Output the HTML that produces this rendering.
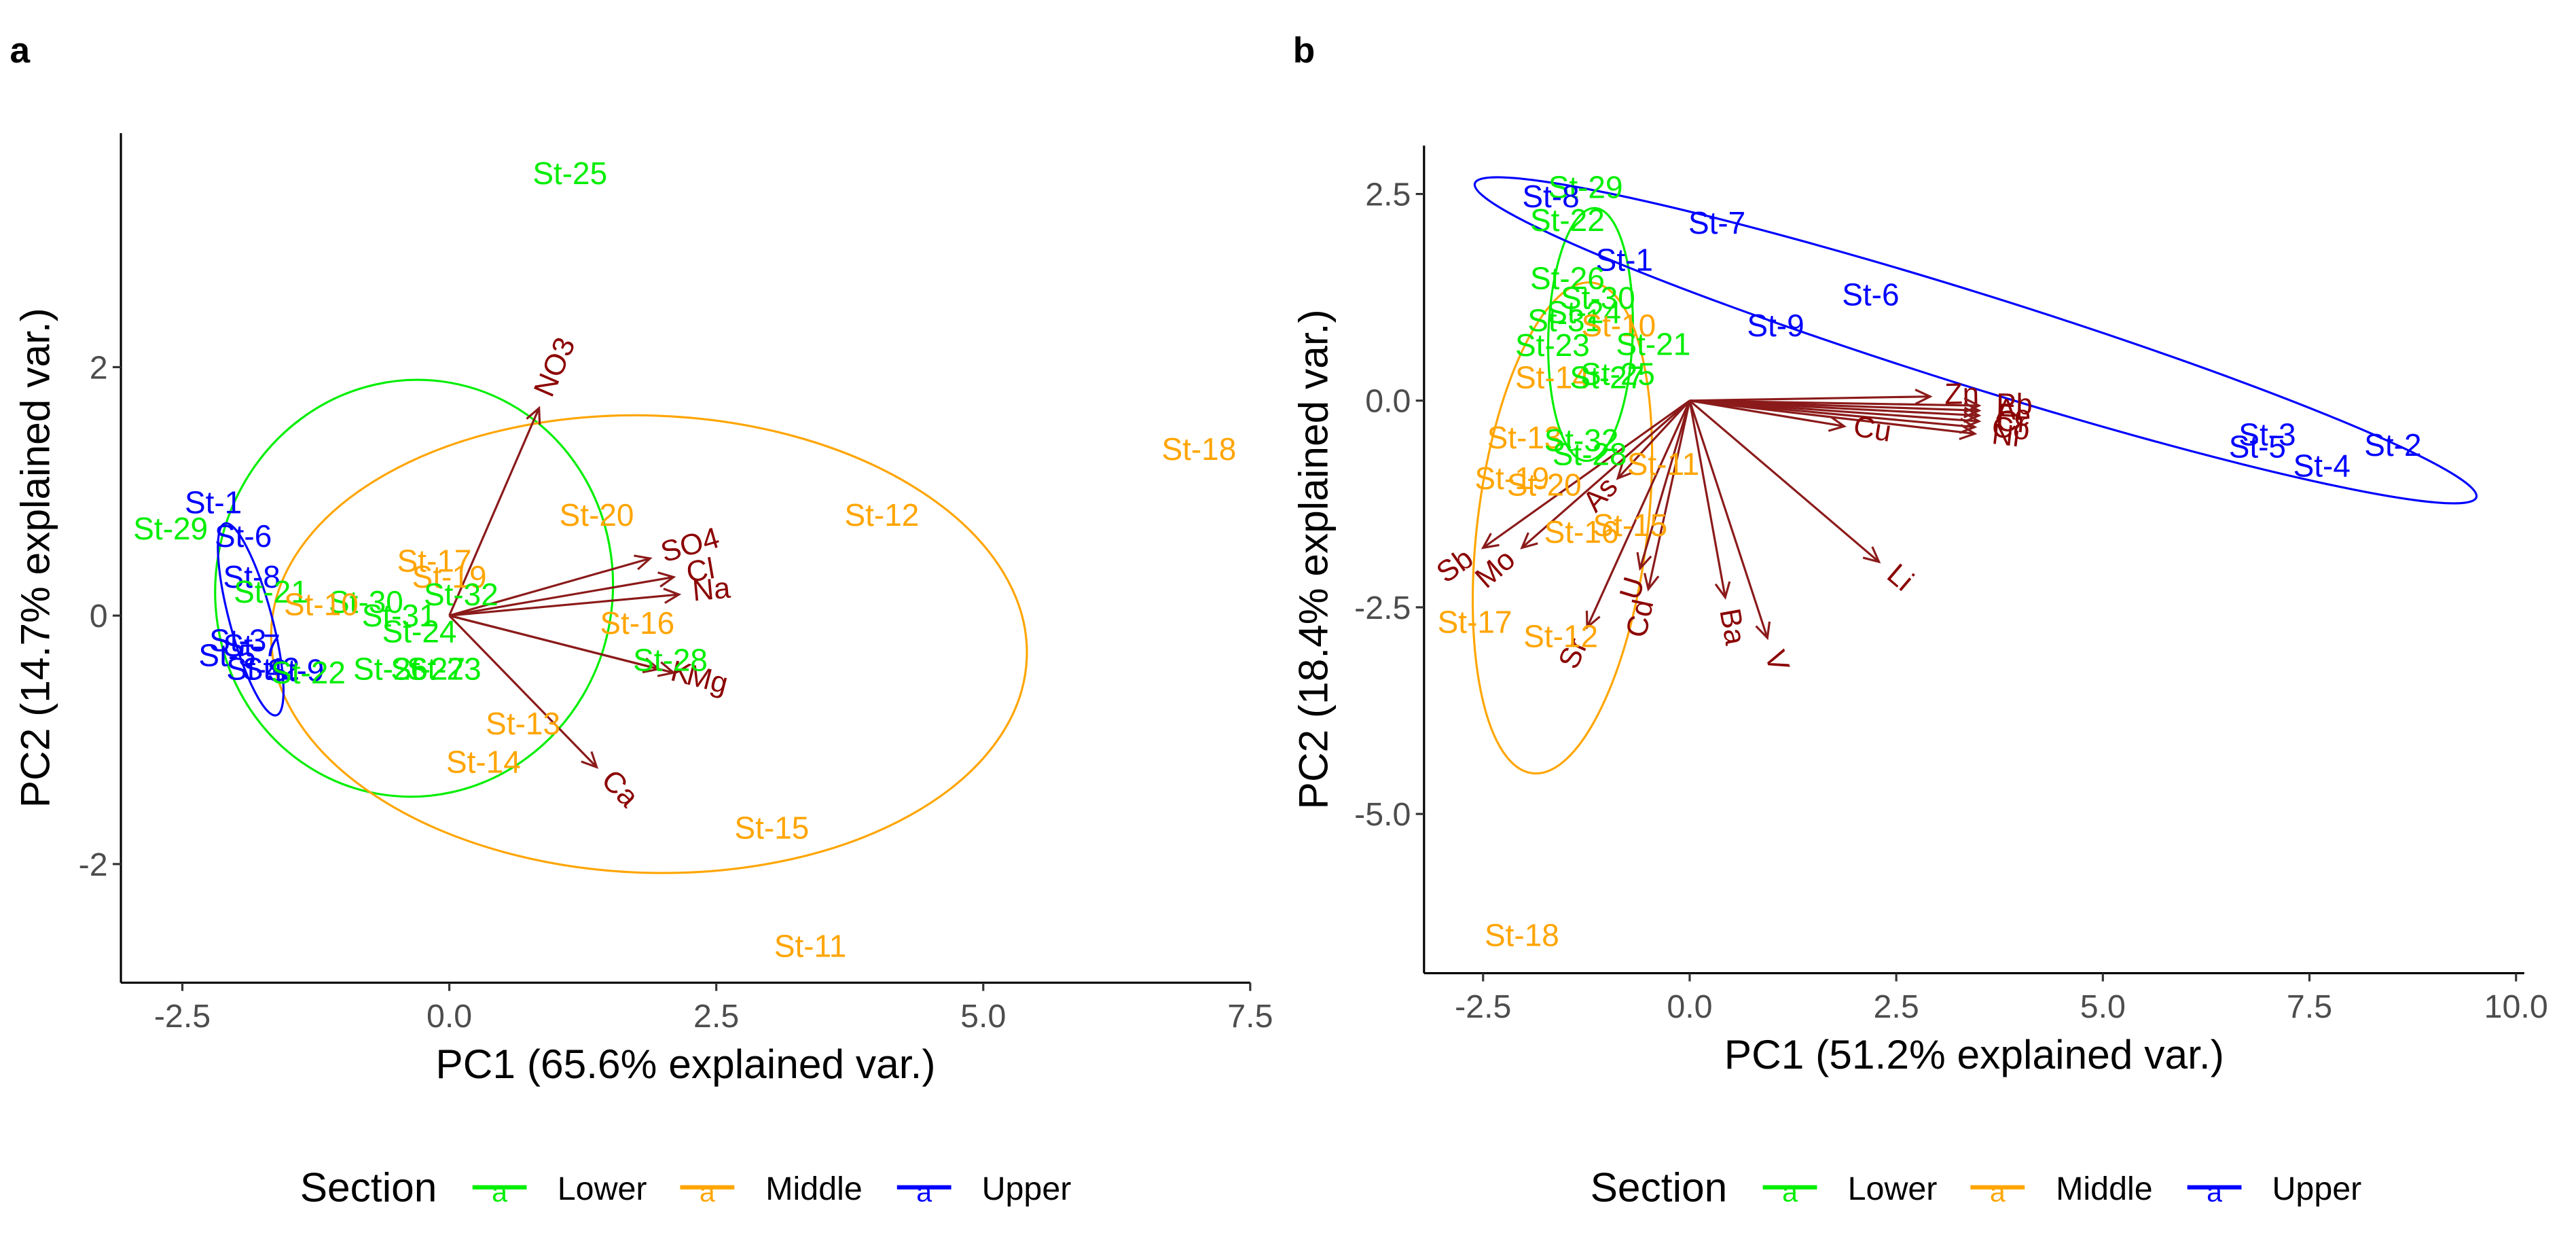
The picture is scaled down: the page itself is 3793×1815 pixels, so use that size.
<!DOCTYPE html>
<html><head><meta charset="utf-8"><style>
html,body{margin:0;padding:0;background:#fff;}
svg{display:block;font-family:"Liberation Sans",Arial,sans-serif;}
</style></head><body>
<svg id="fig" width="3793" height="1815" viewBox="0 0 1568 750.3" preserveAspectRatio="none" xmlns="http://www.w3.org/2000/svg">
<rect width="1568" height="750.3" fill="#fff"/>
<text x="6" y="38" font-size="22" font-weight="bold">a</text>
<text x="787" y="38" font-size="22" font-weight="bold">b</text>
<g id="pa"></g>
<g id="pb"></g>
</svg>
<script>
// ---------- Panel A data ----------
const aXTicks = [-2.5, 0, 2.5, 5, 7.5];
const aXTickLabels = ["-2.5", "0.0", "2.5", "5.0", "7.5"];
const aYTicks = [-2, 0, 2];
const aYTickLabels = ["-2", "0", "2"];
const aSiteNames = ["St-25","St-18","St-12","St-20","St-1","St-29","St-6","St-8","St-21","St-17","St-19","St-32","St-30","St-10","St-31","St-24","St-16","St-28","St-26","St-27","St-23","St-3","St-7","St-5","St-4","St-2","St-9","St-22","St-13","St-14","St-15","St-11"];
const aSiteGroup = ["L","M","M","M","U","L","U","U","L","M","M","L","L","M","L","L","M","L","L","L","L","U","U","U","U","U","U","L","M","M","M","M"];
const aSiteX = [1.13,7.02,4.05,1.38,-2.21,-2.61,-1.93,-1.85,-1.67,-0.14,0.0,0.11,-0.78,-1.2,-0.47,-0.28,1.76,2.07,-0.55,-0.2,-0.05,-1.98,-1.85,-2.08,-1.82,-1.67,-1.44,-1.32,0.69,0.32,3.02,3.38];
const aSiteY = [3.56,1.34,0.81,0.81,0.91,0.70,0.64,0.31,0.19,0.44,0.31,0.17,0.11,0.09,0.0,-0.13,-0.06,-0.36,-0.43,-0.43,-0.43,-0.2,-0.24,-0.32,-0.43,-0.43,-0.44,-0.46,-0.87,-1.18,-1.71,-2.66];
const aVarNames = ["NO3","SO4","Cl","Na","K","Mg","Ca"];
const aVarX = [0.84,1.88,2.10,2.15,1.96,2.10,1.38];
const aVarY = [1.67,0.46,0.31,0.17,-0.43,-0.46,-1.22];
const aEllGroup = ["L","M","U"];
const aEllCX = [-0.33,1.87,-1.86];
const aEllCY = [0.22,-0.23,-0.03];
const aEllRX = [1.86,3.54,0.93];
const aEllRY = [1.68,1.84,0.17];
const aEllRot = [10,2,75];

// ---------- Panel B data ----------
const bXTicks = [-2.5, 0, 2.5, 5, 7.5, 10];
const bXTickLabels = ["-2.5","0.0","2.5","5.0","7.5","10.0"];
const bYTicks = [-5, -2.5, 0, 2.5];
const bYTickLabels = ["-5.0","-2.5","0.0","2.5"];
const bSiteNames = ["St-29","St-8","St-22","St-7","St-1","St-6","St-9","St-26","St-30","St-24","St-31","St-10","St-23","St-21","St-14","St-25","St-27","St-13","St-32","St-28","St-11","St-19","St-20","St-16","St-15","St-17","St-12","St-18","St-3","St-5","St-4","St-2"];
const bSiteGroup = ["L","U","L","U","U","U","U","L","L","L","L","M","L","L","M","L","L","M","L","L","M","M","M","M","M","M","M","M","U","U","U","U"];
const bSiteX = [-1.26,-1.68,-1.48,0.33,-0.79,2.19,1.04,-1.48,-1.11,-1.28,-1.51,-0.86,-1.66,-0.44,-1.66,-0.87,-1.0,-2.0,-1.31,-1.21,-0.32,-2.15,-1.76,-1.31,-0.72,-2.60,-1.56,-2.03,6.99,6.87,7.65,8.51];
const bSiteY = [2.58,2.47,2.18,2.15,1.70,1.28,0.91,1.48,1.24,1.07,0.97,0.91,0.67,0.68,0.28,0.32,0.28,-0.45,-0.48,-0.65,-0.77,-0.94,-1.02,-1.59,-1.51,-2.68,-2.85,-6.47,-0.41,-0.56,-0.79,-0.54];
const bVarNames = ["Zn","Pb","Al","Fe","Cr","Co","Ni","Cu","Li","V","Ba","Cd","U","Sr","As","Mo","Sb"];
const bVarX = [2.91,3.50,3.50,3.50,3.50,3.45,3.45,1.87,2.29,0.94,0.43,-0.50,-0.60,-1.24,-0.87,-2.03,-2.50];
const bVarY = [0.05,-0.06,-0.12,-0.18,-0.25,-0.32,-0.40,-0.31,-1.95,-2.87,-2.38,-2.28,-2.03,-2.74,-0.94,-1.78,-1.78];
const bEllGroup = ["L","M","U"];
const bEllCX = [-1.20,-1.54,3.46];
const bEllCY = [0.80,-1.54,0.73];
const bEllRX = [0.51,1.03,6.35];
const bEllRY = [1.53,2.99,0.56];
const bEllRot = [2,7,17.4];

const COLORS = {L:"#00ee00", M:"#ffa500", U:"#0000ff"};
const GNAME = {L:"lower", M:"middle", U:"upper"};
const ARROW = "#8b1a1a";
const NS = "http://www.w3.org/2000/svg";

function mk(parent, tag, attrs, txt){
  const e = document.createElementNS(NS, tag);
  for (const k in attrs) e.setAttribute(k, attrs[k]);
  if (txt !== undefined) e.textContent = txt;
  parent.appendChild(e);
  return e;
}

function drawPanel(g, cfg){
  const sx = v => cfg.x0 + v*cfg.kx;
  const sy = v => cfg.y0 - v*cfg.ky;
  // ellipses
  for (let i=0;i<cfg.eg.length;i++){
    const el = mk(g,"ellipse",{cx:sx(cfg.ecx[i]),cy:sy(cfg.ecy[i]),rx:cfg.erx[i]*cfg.kx,ry:cfg.ery[i]*cfg.ky,
      transform:`rotate(${cfg.erot[i]} ${sx(cfg.ecx[i])} ${sy(cfg.ecy[i])})`,fill:"none",stroke:COLORS[cfg.eg[i]],"stroke-width":1.3});
    
    
  }
  // arrows
  for (let i=0;i<cfg.vn.length;i++){
    const x1=sx(0), y1=sy(0), x2=sx(cfg.vx[i]), y2=sy(cfg.vy[i]);
    const ang = Math.atan2(y2-y1, x2-x1);
    const h = 10, a = 0.45;
    const ag = mk(g,"g",{});
    
    
    mk(ag,"line",{x1:x1,y1:y1,x2:x2,y2:y2,stroke:ARROW,"stroke-width":1.3});
    mk(ag,"polyline",{points:`${x2-h*Math.cos(ang-a)},${y2-h*Math.sin(ang-a)} ${x2},${y2} ${x2-h*Math.cos(ang+a)},${y2-h*Math.sin(ang+a)}`,fill:"none",stroke:ARROW,"stroke-width":1.3});
    const dx = x2-x1, dy = y2-y1;
    const lx = x1+dx*1.06, ly = y1+dy*1.06;
    let deg = Math.atan(dy/dx)*180/Math.PI;
    const t = mk(g,"text",{x:lx,y:ly,"font-size":18,fill:"#8b0000","text-anchor":dx>=0?"start":"end","dominant-baseline":"middle",
      transform:`rotate(${deg} ${lx} ${ly})`}, cfg.vn[i]);
    
    
  }
  // site labels
  for (let i=0;i<cfg.sn.length;i++){
    const t = mk(g,"text",{x:sx(cfg.sx[i]),y:sy(cfg.sy[i])+6.5,"font-size":19,fill:COLORS[cfg.sg[i]],"text-anchor":"middle"}, cfg.sn[i]);
    
    
  }
  // axes
  const ax = mk(g,"line",{x1:cfg.left,y1:cfg.bottom,x2:cfg.right,y2:cfg.bottom,stroke:"#000","stroke-width":1.3});
  
  
  const ay = mk(g,"line",{x1:cfg.left,y1:cfg.top,x2:cfg.left,y2:cfg.bottom,stroke:"#000","stroke-width":1.3});
  
  
  for (let i=0;i<cfg.xt.length;i++){
    const X = sx(cfg.xt[i]);
    mk(g,"line",{x1:X,y1:cfg.bottom,x2:X,y2:cfg.bottom+5,stroke:"#333","stroke-width":1.3});
    const t = mk(g,"text",{x:X,y:cfg.bottom+27,"font-size":20,fill:"#4d4d4d","text-anchor":"middle"}, cfg.xtl[i]);
    
    
  }
  for (let i=0;i<cfg.yt.length;i++){
    const Y = sy(cfg.yt[i]);
    mk(g,"line",{x1:cfg.left-5,y1:Y,x2:cfg.left,y2:Y,stroke:"#333","stroke-width":1.3});
    const t = mk(g,"text",{x:cfg.left-8,y:Y+7,"font-size":20,fill:"#4d4d4d","text-anchor":"end"}, cfg.ytl[i]);
    
    
  }
  const xtT = mk(g,"text",{x:(cfg.left+cfg.right)/2,y:cfg.bottom+58,"font-size":25,"text-anchor":"middle"}, cfg.xtitle);
  
  
  const yc = (cfg.top+cfg.bottom)/2;
  const ytT = mk(g,"text",{x:cfg.ytx,y:yc,"font-size":25,"text-anchor":"middle",transform:`rotate(-90 ${cfg.ytx} ${yc})`}, cfg.ytitle);
  
  
  // legend
  const o = cfg.legOff;
  const lg = mk(g,"g",{});
  
  
  const lt = mk(lg,"text",{x:182.6+o,y:731,"font-size":25}, "Section");
  
  
  const keys = [["L",287.6,339.3,"Lower"],["M",414,466,"Middle"],["U",546,597.6,"Upper"]];
  for (const k of keys){
    const eg = mk(lg,"g",{});
    
    
    mk(eg,"line",{x1:k[1]+o,y1:722.5,x2:k[1]+33+o,y2:722.5,stroke:COLORS[k[0]],"stroke-width":2.6});
    mk(eg,"text",{x:k[1]+16.5+o,y:731,"font-size":17,fill:COLORS[k[0]],"text-anchor":"middle"},"a");
    mk(eg,"text",{x:k[2]+o,y:730,"font-size":20}, k[3]);
  }
}

drawPanel(document.getElementById('pa'), {
  x0:273.5, kx:65, y0:374.6, ky:75.6, left:73.6, right:761, top:81, bottom:598,
  xt:aXTicks, xtl:aXTickLabels, yt:aYTicks, ytl:aYTickLabels,
  sn:aSiteNames, sg:aSiteGroup, sx:aSiteX, sy:aSiteY,
  vn:aVarNames, vx:aVarX, vy:aVarY,
  eg:aEllGroup, ecx:aEllCX, ecy:aEllCY, erx:aEllRX, ery:aEllRY, erot:aEllRot,
  xtitle:"PC1 (65.6% explained var.)", ytitle:"PC2 (14.7% explained var.)", ytx:30, legOff:0
});
drawPanel(document.getElementById('pb'), {
  x0:1028.5, kx:50.3, y0:243.8, ky:50.3, left:866.8, right:1536.5, top:88.6, bottom:592.2,
  xt:bXTicks, xtl:bXTickLabels, yt:bYTicks, ytl:bYTickLabels,
  sn:bSiteNames, sg:bSiteGroup, sx:bSiteX, sy:bSiteY,
  vn:bVarNames, vx:bVarX, vy:bVarY,
  eg:bEllGroup, ecx:bEllCX, ecy:bEllCY, erx:bEllRX, ery:bEllRY, erot:bEllRot,
  xtitle:"PC1 (51.2% explained var.)", ytitle:"PC2 (18.4% explained var.)", ytx:808, legOff:785.4
});
</script>
</body></html>
